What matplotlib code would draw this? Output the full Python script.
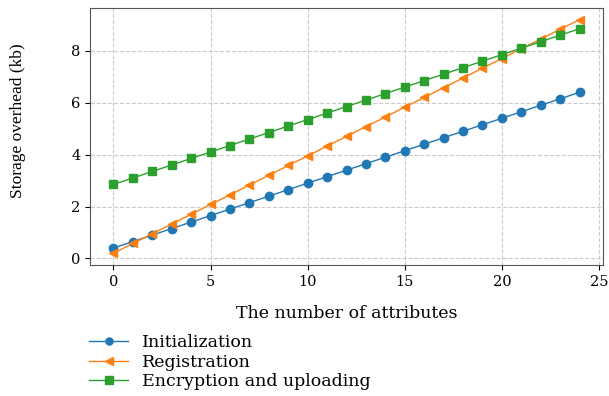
import matplotlib
matplotlib.use("Agg")
import matplotlib.pyplot as plt

x = list(range(25))
init = [0.40, 0.65, 0.90, 1.15, 1.40, 1.65, 1.90, 2.15, 2.40, 2.65, 2.90, 3.15, 3.40,
        3.65, 3.90, 4.15, 4.40, 4.65, 4.90, 5.15, 5.40, 5.65, 5.90, 6.15, 6.40]
reg = [0.20, 0.58, 0.95, 1.33, 1.70, 2.08, 2.45, 2.83, 3.20, 3.58, 3.95, 4.33, 4.70,
       5.08, 5.45, 5.83, 6.20, 6.58, 6.95, 7.33, 7.70, 8.08, 8.45, 8.83, 9.20]
enc = [2.85, 3.10, 3.35, 3.60, 3.85, 4.10, 4.35, 4.60, 4.85, 5.10, 5.35, 5.60, 5.85,
       6.10, 6.35, 6.60, 6.85, 7.10, 7.35, 7.60, 7.85, 8.10, 8.35, 8.60, 8.85]
labels = ["Initialization", "Registration", "Encryption and uploading"]

plt.rcParams['font.family'] = ['DejaVu Serif']
fig = plt.figure(figsize=(6.09, 3.96), dpi=100)
ax = fig.add_axes([0.148, 0.331, 0.842, 0.649])
ax.plot(x, init, marker='o', color='#1f77b4', lw=1, ms=6, label=labels[0])
ax.plot(x, reg, marker='<', color='#ff7f0e', lw=1, ms=6, label=labels[1])
ax.plot(x, enc, marker='s', color='#2ca02c', lw=1, ms=6, label=labels[2])
ax.set_xticks([0, 5, 10, 15, 20, 25])
ax.set_yticks([0, 2, 4, 6, 8])
ax.grid(True, linestyle='--', color='#cccccc', lw=0.8)
ax.tick_params(labelsize=10.5)
ax.set_xlabel("The number of attributes", fontsize=12.5, labelpad=12)
ax.set_ylabel("Storage overhead (kb)", fontsize=12.5, family=['Liberation Serif'])
ax.yaxis.set_label_coords(-0.125, 0.56)
for s in ax.spines.values():
    s.set_color('#555555')
ax.legend(loc='upper left', bbox_to_anchor=(-0.025, -0.222), frameon=False, fontsize=12.5,
          handlelength=2.2, handletextpad=0.8, labelspacing=0.15, markerscale=0.85,
          borderpad=0.2)
fig.savefig("out.png", dpi=100)
